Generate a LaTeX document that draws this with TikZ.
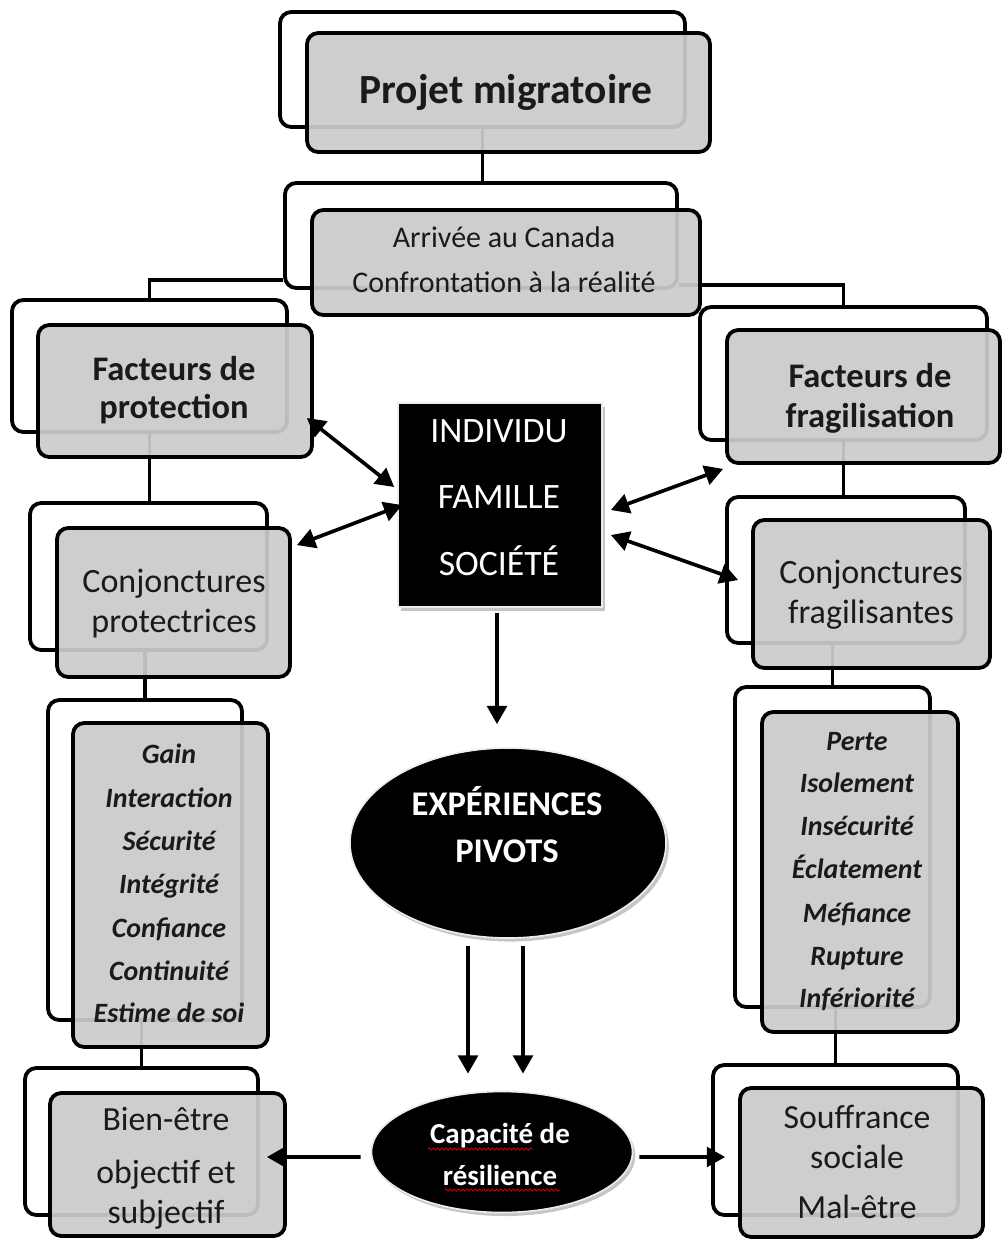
\documentclass[tikz,border=0pt]{standalone}
\usepackage{fontspec}
\setmainfont{Carlito}
\usetikzlibrary{arrows.meta,shapes.geometric,calc,fit,decorations.pathmorphing,shadows}

\definecolor{boxgray}{HTML}{CBCBCB}
\definecolor{inkc}{HTML}{1A1A1A}

\newcommand\ftitle{\fontsize{29.5}{34}\selectfont\bfseries}
\newcommand\fhead{\fontsize{24.5}{29}\selectfont\bfseries}
\newcommand\fsub{\fontsize{21.3}{25}\selectfont}
\newcommand\fconj{\fontsize{24.2}{29}\selectfont}
\newcommand\fitem{\fontsize{19.9}{24}\selectfont\bfseries\itshape}
\newcommand\fcent{\fontsize{25.4}{30}\selectfont}
\newcommand\fexp{\fontsize{24.6}{29}\selectfont\bfseries}
\newcommand\fcap{\fontsize{20.6}{25}\selectfont\bfseries}
\newcommand\fout{\fontsize{24}{29}\selectfont}

\tikzset{
  backbox/.style={draw=black, line width=2.7pt, rounded corners=8pt, fill=white, inner sep=0pt},
  frontbox/.style={draw=black, line width=2.7pt, rounded corners=8pt, fill=boxgray, fill opacity=0.93, inner sep=0pt},
  link/.style={line width=2.5pt},
  arr/.style={line width=2.6pt, -{Triangle[length=13pt,width=14pt]}},
  darr/.style={line width=2.6pt, {Triangle[length=13pt,width=14pt]}-{Triangle[length=13pt,width=14pt]}},
  txt/.style={anchor=base, inner sep=0pt, text=inkc},
  wtxt/.style={anchor=base, inner sep=0pt, text=white},
  blackshape/.style={fill=black, draw=gray!15, line width=1.2pt, inner sep=0pt,
    drop shadow={shadow xshift=2pt, shadow yshift=-2.5pt, fill=gray!45, opacity=1}},
  wavy/.style={draw=red!80!black, line width=0.6pt, decorate, decoration={snake, amplitude=0.8pt, segment length=3pt}},
}

\begin{document}
\begin{tikzpicture}[x=0.025cm, y=-0.025cm]
\useasboundingbox (0,0) rectangle (1004,1239);

% back boxes
\node[backbox, fit={(280,12)(685,127)}] (pmb) {};
\node[backbox, fit={(285,183)(677,288)}] (arb) {};
\node[backbox, fit={(12,300)(287,432)}] (fpb) {};
\node[backbox, fit={(30,503)(267,650)}] (cpb) {};
\node[backbox, fit={(48,700)(242,1020)}] (lpb) {};
\node[backbox, fit={(25,1068)(258,1215)}] (bwb) {};
\node[backbox, fit={(700,307)(987,440)}] (ffb) {};
\node[backbox, fit={(727,497)(965,643)}] (cfb) {};
\node[backbox, fit={(735,687)(930,1007)}] (lfb) {};
\node[backbox, fit={(713,1065)(958,1215)}] (sfb) {};

% tree connectors
\draw[link] (pmb.south) -- (pmb.south |- arb.north);
\draw[link] (fpb.north) |- ([yshift=7pt]arb.south west);
\draw[link] (ffb.north) |- ([yshift=3.5pt]arb.south east);
\draw[link] (fpb.south) -- (fpb.south |- cpb.north);
\draw[link] (lpb.north) -- (lpb.north |- cpb.south);
\draw[link] (bwb.north) -- (bwb.north |- lpb.south);
\draw[link] (ffb.south) -- (ffb.south |- cfb.north);
\draw[link] (lfb.north) -- (lfb.north |- cfb.south);
\draw[link] (sfb.north) -- (sfb.north |- lfb.south);

% front boxes
\node[frontbox, fit={(307,33)(710,152)}] (pmf) {};
\node[frontbox, fit={(312,210)(700,315)}] (arf) {};
\node[frontbox, fit={(38,325)(312,457)}] (fpf) {};
\node[frontbox, fit={(57,528)(290,677)}] (cpf) {};
\node[frontbox, fit={(73,723)(268,1047)}] (lpf) {};
\node[frontbox, fit={(50,1093)(285,1236)}] (bwf) {};
\node[frontbox, fit={(727,330)(1000,463)}] (fff) {};
\node[frontbox, fit={(753,520)(990,668)}] (cff) {};
\node[frontbox, fit={(762,712)(958,1032)}] (lff) {};
\node[frontbox, fit={(740,1088)(983,1237)}] (sff) {};

% texts in gray boxes
\node[txt, font=\ftitle] (tpm) at (506,103) {Projet migratoire};
\node[txt, font=\fsub] (tar1) at (504,247) {Arrivée au Canada};
\node[txt, font=\fsub] (tar2) at (504,292) {Confrontation à la réalité};
\node[txt, font=\fhead] (tfp1) at (174,380) {Facteurs de};
\node[txt, font=\fhead] (tfp2) at (174,418) {protection};
\node[txt, font=\fconj] (tcp1) at (174,592) {Conjonctures};
\node[txt, font=\fconj] (tcp2) at (174,632) {protectrices};
\node[txt, font=\fhead] (tff1) at (870,387) {Facteurs de};
\node[txt, font=\fhead] (tff2) at (870,427) {fragilisation};
\node[txt, font=\fconj] (tcf1) at (871,583) {Conjonctures};
\node[txt, font=\fconj] (tcf2) at (871,623) {fragilisantes};
\foreach \w/\yy [count=\i] in {Gain/763, Interaction/807, Sécurité/850, Intégrité/893, Confiance/937, Continuité/980, Estime de soi/1022}
  \node[txt, font=\fitem] (lp\i) at (169,\yy) {\w};
\foreach \w/\yy [count=\i] in {Perte/750, Isolement/792, Insécurité/835, Éclatement/878, Méfiance/922, Rupture/965, Infériorité/1007}
  \node[txt, font=\fitem] (lf\i) at (857,\yy) {\w};
\node[txt, font=\fout] (tbw1) at (166,1130) {Bien-être};
\node[txt, font=\fout] (tbw2) at (166,1183) {objectif et};
\node[txt, font=\fout] (tbw3) at (166,1223) {subjectif};
\node[txt, font=\fout] (tsf1) at (857,1128) {Souffrance};
\node[txt, font=\fout] (tsf2) at (857,1168) {sociale};
\node[txt, font=\fout] (tsf3) at (857,1218) {Mal-être};

% central black shapes
\node[blackshape, rectangle, fit={(398,403)(602,607)}] (ifs) {};
\node[wtxt, font=\fcent] (ti1) at (499,442) {INDIVIDU};
\node[wtxt, font=\fcent] (ti2) at (499,508) {FAMILLE};
\node[wtxt, font=\fcent] (ti3) at (499,575) {SOCIÉTÉ};

\node[blackshape, ellipse, minimum width=7.9cm, minimum height=4.75cm] (exp) at (508,843) {};
\node[wtxt, font=\fexp] (te1) at (507,815) {EXPÉRIENCES};
\node[wtxt, font=\fexp] (te2) at (507,862) {PIVOTS};

\node[blackshape, ellipse, minimum width=6.525cm, minimum height=3.025cm] (cap) at (502,1152) {};
\node[wtxt, font=\fcap] (tc1) at (500,1143) {Capacité de};
\node[wtxt, font=\fcap] (tc2) at (500,1185) {résilience};
\draw[wavy] ($(tc1.base west)+(-2,6)$) -- ($(tc1.base west)+(103,6)$);
\draw[wavy] ($(tc2.base west)+(2,5)$) -- ($(tc2.base east)+(2,5)$);

% arrows
\draw[darr] ($(fpf.east)+(-7,27)$) -- ($(ifs.west)+(-3,-18)$);
\draw[darr] ($(cpf.north east)+(5,19)$) -- ($(ifs.west)+(5,0)$);
\draw[darr] ($(fff.south west)+(-2,4)$) -- ($(ifs.east)+(8,5)$);
\draw[darr] ($(cff.west)+(-13,-14)$) -- ($(ifs.east)+(8,30)$);
\draw[arr] ($(ifs.south)+(-3,5)$) -- ($(exp.north)+(-11,-23)$);
\draw[arr] ($(exp.south)+(-40,7)$) -- ($(cap.north)+(-34,-17)$);
\draw[arr] ($(exp.south)+(15,7)$) -- ($(cap.north)+(21,-17)$);
\draw[arr] ($(cap.west)+(-10,5)$) -- ($(bwf.east)+(-20,-7.5)$);
\draw[arr] ($(cap.east)+(6,5)$) -- ($(sff.west)+(-13,-5.5)$);
\end{tikzpicture}
\end{document}
